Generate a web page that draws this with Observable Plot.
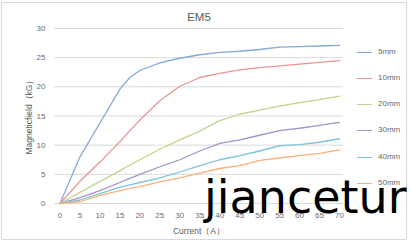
<!DOCTYPE html>
<html><head><meta charset="utf-8">
<script src="https://cdn.jsdelivr.net/npm/d3@7"></script>
<script src="https://cdn.jsdelivr.net/npm/@observablehq/plot@0.6"></script>
<style>
html,body{margin:0;padding:0;background:#fff;}
#wrap{position:relative;width:411px;height:245px;overflow:hidden;font-family:"Liberation Sans",Arial,sans-serif;}
#frame{position:absolute;left:1px;top:2px;width:406px;height:238px;border:1px solid #d9d9d9;box-sizing:border-box;}
#title{position:absolute;left:0;width:398px;top:11px;text-align:center;font-size:11.5px;color:#595959;}
#legend{position:absolute;left:357px;top:0;}
.li{position:absolute;left:0;width:60px;height:10px;}
.li span.l{position:absolute;left:0;top:5px;width:15px;height:0;border-top:1.3px solid;}
.li span.t{position:absolute;left:21px;top:0;font-size:8px;color:#6a6a6a;line-height:10px;}
#ylab{position:absolute;left:30px;top:115px;transform:translate(-50%,-50%) rotate(-90deg);font-size:8.5px;color:#595959;white-space:nowrap;}
#xlab{position:absolute;left:0;width:398px;top:226px;text-align:center;font-size:8.5px;color:#595959;}
#wm{position:absolute;left:204px;top:174px;font-family:"DejaVu Sans";font-size:46px;color:#000;line-height:1;white-space:nowrap;}
#chart{position:absolute;left:0;top:0;}
</style></head>
<body><div id="wrap"><div id="frame"></div><div id="chart"></div><div id="title">EM5</div><div id="legend"></div><div id="ylab">Magneticfield（kG）</div><div id="xlab">Current（A）</div><div id="wm">jiancetur</div></div>
<script>
const current = [0,5,10,15,17.5,20,25,30,35,40,45,50,55,60,65,70];
const seriesNames = ["5mm","10mm","20mm","30mm","40mm","50mm"];
const s5mm  = [0,8.0,13.8,19.6,21.6,22.8,24.1,24.9,25.5,25.9,26.1,26.4,26.8,26.9,27.0,27.1];
const s10mm = [0,3.8,7.1,10.6,12.5,14.3,17.6,20.1,21.6,22.3,22.9,23.3,23.6,23.9,24.2,24.5];
const s20mm = [0,1.9,3.8,5.6,6.6,7.5,9.3,10.9,12.4,14.2,15.3,16.0,16.7,17.3,17.8,18.4];
const s30mm = [0,1.0,2.2,3.6,4.3,5.0,6.3,7.5,9.0,10.3,10.9,11.7,12.5,12.9,13.4,13.9];
const s40mm = [0,0.6,1.7,2.8,3.2,3.6,4.4,5.4,6.5,7.5,8.2,9.0,9.9,10.1,10.5,11.1];
const s50mm = [0,0.3,1.4,2.2,2.6,2.9,3.7,4.4,5.2,6.0,6.5,7.4,7.8,8.2,8.6,9.2];
const yTicks = [0,5,10,15,20,25,30];
const xTicks = [0,5,10,15,20,25,30,35,40,45,50,55,60,65,70];
const colors = ["#86a8dc","#e69593","#bcd68c","#a691c8","#7cc5d8","#f9b07a"];

const allSeries = [s5mm,s10mm,s20mm,s30mm,s40mm,s50mm];
const rows = [];
allSeries.forEach((vals,si)=>vals.forEach((v,i)=>rows.push({series:seriesNames[si],current:current[i],value:v})));

const chart = Plot.plot({
  width:411, height:245,
  marginLeft:54, marginRight:68, marginTop:28, marginBottom:42,
  style:{fontFamily:"Liberation Sans, Arial, sans-serif",fontSize:"8px",color:"#595959",background:"transparent"},
  x:{domain:[-1.375,71], ticks:xTicks, tickSize:0, tickPadding:9, label:null},
  y:{domain:[0,30], ticks:yTicks, tickSize:0, tickPadding:9, label:null},
  color:{domain:seriesNames, range:colors},
  marks:[
    Plot.ruleY(yTicks,{stroke:"#d9d9d9",strokeWidth:1}),
    Plot.line(rows,{x:"current",y:"value",z:"series",stroke:"series",strokeWidth:1.3}),
    Plot.axisX({ticks:xTicks,tickSize:0,tickPadding:9,label:null,fill:"#6a6a6a"}),
    Plot.axisY({ticks:yTicks,tickSize:0,tickPadding:9,label:null,fill:"#6a6a6a"})
  ]
});
document.getElementById("chart").appendChild(chart);

const legendY = [47,73,99,125,152,178];
const lg = d3.select("#legend");
seriesNames.forEach((n,i)=>{
  const d = lg.append("div").attr("class","li").style("top",legendY[i]+"px");
  d.append("span").attr("class","l").style("border-color",colors[i]);
  d.append("span").attr("class","t").text(n);
});
</script></body></html>
